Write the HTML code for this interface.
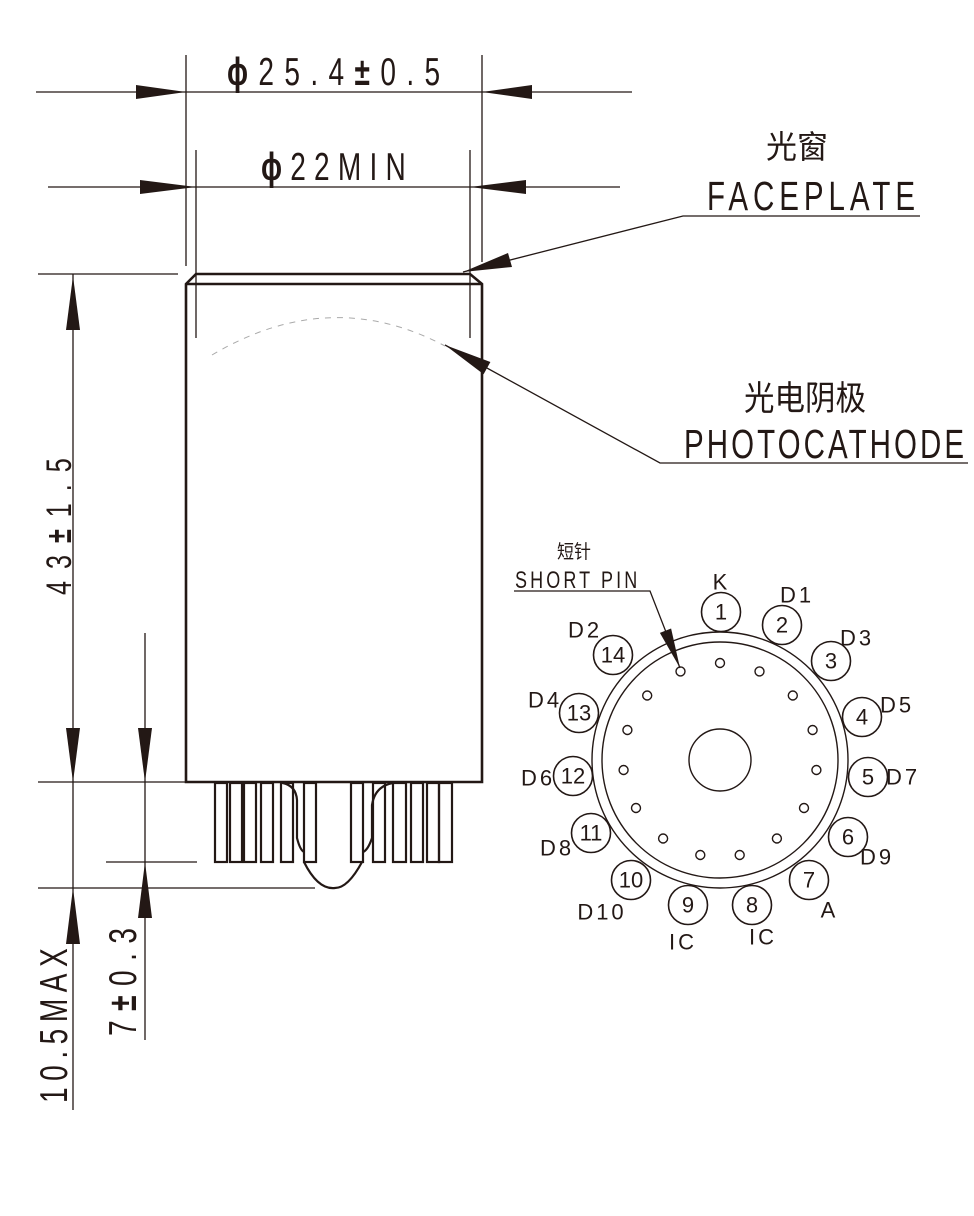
<!DOCTYPE html>
<html><head><meta charset="utf-8"><style>html,body{margin:0;padding:0;background:#fff}svg{display:block}text{font-family:"Liberation Sans","Noto Sans CJK SC",sans-serif;fill:#231815}</style></head>
<body>
<svg width="974" height="1216" viewBox="0 0 974 1216" xmlns="http://www.w3.org/2000/svg">
<g stroke="#231815" stroke-width="1.3" fill="none">
<line x1="186" y1="55" x2="186" y2="266"/>
<line x1="482" y1="55" x2="482" y2="262"/>
<line x1="196" y1="150" x2="196" y2="338"/>
<line x1="470" y1="150" x2="470" y2="338"/>
<line x1="36" y1="92" x2="632" y2="92"/>
<line x1="48" y1="187" x2="620" y2="187"/>
<line x1="38" y1="274" x2="178" y2="274"/>
<line x1="38" y1="782" x2="186" y2="782"/>
<line x1="73" y1="274" x2="73" y2="1110"/>
<line x1="145" y1="633" x2="145" y2="1040"/>
<line x1="106" y1="862" x2="197" y2="862"/>
<line x1="38" y1="888" x2="315" y2="888"/>
<polyline points="463,272 683,216 920,216"/>
<polyline points="445,345 660,463 968,463"/>
<polyline points="514,591 650,591 680,668"/>
</g>
<g stroke="#231815" stroke-width="2.6" fill="none" stroke-linejoin="miter">
<polygon points="196,274 470,274 482,284 482,782 186,782 186,284"/>
<line x1="186" y1="284" x2="482" y2="284"/>
</g>
<path d="M212,355 Q330,285 445,346" stroke="#aaa" stroke-width="1" fill="none" stroke-dasharray="6,6"/>
<g stroke="#231815" stroke-width="2.2" fill="none">
<rect x="215" y="783" width="12" height="79"/>
<rect x="230" y="783" width="12" height="79"/>
<rect x="244" y="783" width="12" height="79"/>
<rect x="261" y="783" width="12" height="79"/>
<rect x="281" y="783" width="12" height="79"/>
<rect x="304" y="783" width="12" height="79"/>
<rect x="351" y="783" width="12" height="79"/>
<rect x="373" y="783" width="12" height="79"/>
<rect x="393" y="783" width="13" height="79"/>
<rect x="411" y="783" width="12" height="79"/>
<rect x="427" y="783" width="12" height="79"/>
<rect x="439" y="783" width="13" height="79"/>
<path d="M283,783 Q296,786 297,800 L297,838 Q300,850 304,852" />
<path d="M304,862 Q318,890 335,888 Q348,888 362,862"/>
<path d="M393,783 Q375,786 372,805 L372,838 Q368,850 363,852"/>
</g>
<g fill="#231815">
<polygon points="186,92 136,85 136,99"/>
<polygon points="482,92 532,85 532,99"/>
<polygon points="196,187 140,180 140,194"/>
<polygon points="470,187 526,180 526,194"/>
<polygon points="73,276 66,330 80,330"/>
<polygon points="73,782 66,728 80,728"/>
<polygon points="145,782 138,728 152,728"/>
<polygon points="145,862 138,918 152,918"/>
<polygon points="73,888 66,944 80,944"/>
<polygon points="463,272 512,267 508,253"/>
<polygon points="445,345 483.6,374.2 490.4,362"/>
<polygon points="680,668 671.1,628.5 659.9,632.9"/>
</g>
<g stroke="#231815" stroke-width="1.4" fill="none">
<circle cx="720" cy="760" r="128"/>
<circle cx="720" cy="760" r="118"/>
<circle cx="720" cy="760" r="31"/>
<circle cx="680.5" cy="671.4" r="4.5"/><circle cx="720" cy="663" r="4.5"/><circle cx="759.5" cy="671.4" r="4.5"/>
<circle cx="792.8" cy="695.5" r="4.5"/><circle cx="812.6" cy="730" r="4.5"/><circle cx="816.4" cy="770" r="4.5"/>
<circle cx="804" cy="808" r="4.5"/><circle cx="776.9" cy="838.5" r="4.5"/><circle cx="739.7" cy="855" r="4.5"/>
<circle cx="700.3" cy="855" r="4.5"/><circle cx="663.1" cy="838.5" r="4.5"/><circle cx="636" cy="808" r="4.5"/>
<circle cx="623.6" cy="770" r="4.5"/><circle cx="627.4" cy="730" r="4.5"/><circle cx="647.2" cy="695.5" r="4.5"/>
</g>
<g stroke="#231815" stroke-width="1.6" fill="#fff">
<circle cx="721" cy="612" r="19.5"/><circle cx="782" cy="625" r="19.5"/><circle cx="831" cy="661" r="19.5"/>
<circle cx="862" cy="717" r="19.5"/><circle cx="868" cy="777" r="19.5"/><circle cx="848" cy="837" r="19.5"/>
<circle cx="809" cy="880" r="19.5"/><circle cx="752" cy="905" r="19.5"/><circle cx="688" cy="905" r="19.5"/>
<circle cx="631" cy="880" r="19.5"/><circle cx="591" cy="833" r="19.5"/><circle cx="573" cy="776" r="19.5"/>
<circle cx="579" cy="713" r="19.5"/><circle cx="613" cy="655" r="19.5"/>
</g>
<g font-size="22" text-anchor="middle" dominant-baseline="central">
<text x="721" y="612">1</text><text x="782" y="625">2</text><text x="831" y="661">3</text>
<text x="862" y="717">4</text><text x="868" y="777">5</text><text x="848" y="837">6</text>
<text x="809" y="880">7</text><text x="752" y="905">8</text><text x="688" y="905">9</text>
<text x="631" y="880">10</text><text x="591" y="833">11</text><text x="573" y="776">12</text>
<text x="579" y="713">13</text><text x="613" y="655">14</text>
<text x="720" y="582">K</text><text x="797" y="595" letter-spacing="3">D1</text>
<text x="857" y="638" letter-spacing="3">D3</text><text x="897" y="705" letter-spacing="3">D5</text>
<text x="903" y="777" letter-spacing="3">D7</text><text x="877" y="857" letter-spacing="3">D9</text>
<text x="828" y="910">A</text><text x="763" y="937" letter-spacing="3">IC</text>
<text x="683" y="942" letter-spacing="3">IC</text><text x="602" y="912" letter-spacing="3">D10</text>
<text x="557" y="848" letter-spacing="3">D8</text><text x="538" y="778" letter-spacing="3">D6</text>
<text x="545" y="700" letter-spacing="3">D4</text><text x="585" y="630" letter-spacing="3">D2</text>
</g>
<text x="557" y="558" font-size="19" textLength="34" lengthAdjust="spacingAndGlyphs">短针</text>
<text transform="translate(515,588) scale(0.75,1)" font-size="24" textLength="163" lengthAdjust="spacing">SHORT PIN</text>
<text x="766" y="158" font-size="32" textLength="62" lengthAdjust="spacingAndGlyphs">光窗</text>
<text transform="translate(707,210) scale(0.72,1)" font-size="41" textLength="289" lengthAdjust="spacing">FACEPLATE</text>
<text x="744" y="410" font-size="34" textLength="122" lengthAdjust="spacingAndGlyphs">光电阴极</text>
<text transform="translate(684,458) scale(0.72,1)" font-size="41" textLength="389" lengthAdjust="spacing">PHOTOCATHODE</text>
<text transform="translate(227,85) scale(0.72,1)" font-size="39" textLength="296" lengthAdjust="spacing"><tspan font-weight="bold">ϕ</tspan>25.4<tspan font-weight="bold">±</tspan>0.5</text>
<text transform="translate(261,180) scale(0.72,1)" font-size="39" textLength="201" lengthAdjust="spacing"><tspan font-weight="bold">ϕ</tspan>22MIN</text>
<text transform="translate(71,595) rotate(-90) scale(0.72,1)" font-size="35" textLength="190" lengthAdjust="spacing">43<tspan font-weight="bold">±</tspan>1.5</text>
<text transform="translate(67,1103) rotate(-90) scale(0.72,1)" font-size="39" textLength="215" lengthAdjust="spacing">10.5MAX</text>
<text transform="translate(136,1036) rotate(-90) scale(0.72,1)" font-size="39" textLength="150" lengthAdjust="spacing">7<tspan font-weight="bold">±</tspan>0.3</text>
</svg>
</body></html>
